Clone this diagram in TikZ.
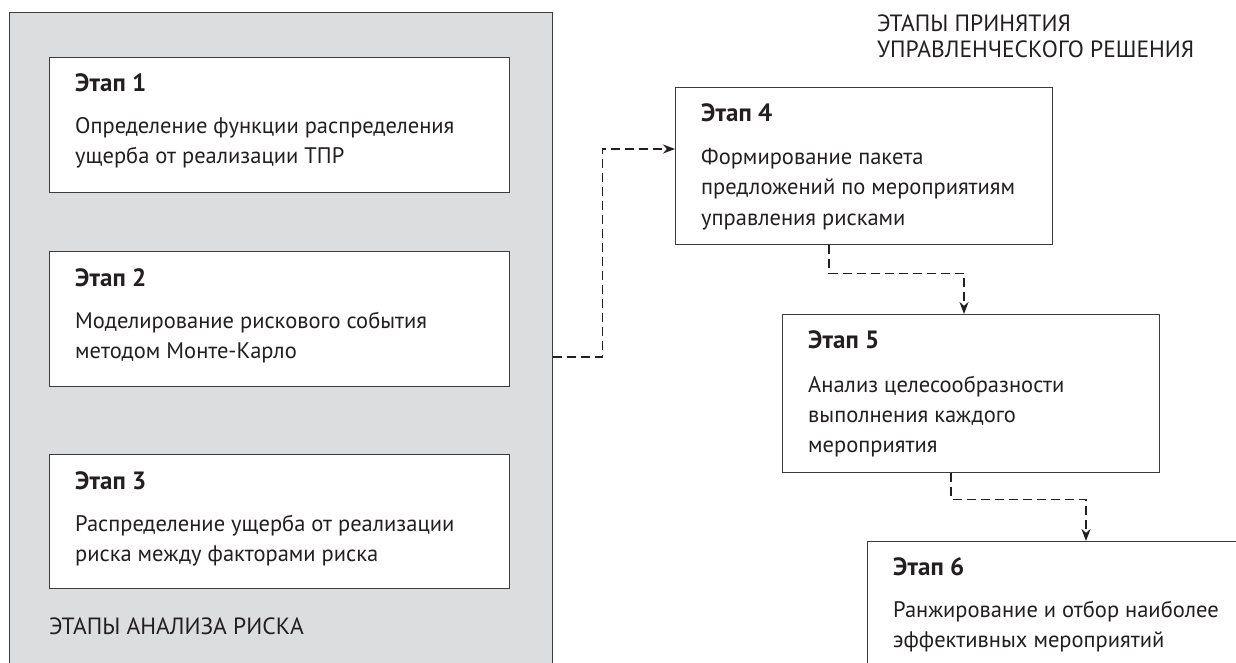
\documentclass[tikz,border=0pt]{standalone}
\usepackage{fontspec}
\setmainfont{PT Sans}
\usetikzlibrary{arrows.meta}
\definecolor{panelgray}{HTML}{DCDDDF}
\definecolor{edgegray}{HTML}{3C3C3C}
\definecolor{ink}{HTML}{231F20}
\tikzset{
  panelbox/.style={draw=edgegray, line width=1.4pt, fill=panelgray, rectangle,
    anchor=north west, inner sep=0pt},
  stagebox/.style={draw=edgegray, line width=1.4pt, fill=white, rectangle,
    anchor=north west, inner sep=0pt},
  stagetitle/.style={anchor=base west, inner sep=0pt, text=ink,
    font=\fontsize{25}{29}\selectfont\bfseries},
  stagetext/.style={anchor=base west, inner sep=0pt, text=ink},
  caption/.style={anchor=base west, inner sep=0pt, text=ink,
    font=\fontsize{23.5}{26}\selectfont},
  flow/.style={draw=ink, line width=1.7pt, dash pattern=on 9pt off 5pt,
    -{Stealth[length=12pt,width=9pt]}},
}
% body text of a stage: lines set 30pt apart, first baseline at the anchor
\newcommand\stagebody[1]{\parbox[t]{440pt}{\raggedright\fontsize{22.5}{30}\selectfont #1}}
\begin{document}
\begin{tikzpicture}[x=1pt,y=-1pt]
  \useasboundingbox (0,0) rectangle (1236,663);
  \clip (0,0) rectangle (1236,663);

  % left panel: risk analysis stages
  \node[panelbox, minimum width=543pt, minimum height=720pt] (panel) at (9,12) {};

  \node[stagebox, minimum width=460pt, minimum height=135pt] (s1) at (49,57) {};
  \node[stagetitle] (t1) at ([shift={(26,35)}]s1.north west) {Этап 1};
  \node[stagetext] (d1) at ([shift={(26,77)}]s1.north west)
    {\stagebody{Определение функции распределения\\ущерба от реализации ТПР}};

  \node[stagebox, minimum width=460pt, minimum height=135pt] (s2) at (49,251) {};
  \node[stagetitle] (t2) at ([shift={(26,35)}]s2.north west) {Этап 2};
  \node[stagetext] (d2) at ([shift={(26,77)}]s2.north west)
    {\stagebody{Моделирование рискового события\\методом Монте-Карло}};

  \node[stagebox, minimum width=460pt, minimum height=134pt] (s3) at (49,454) {};
  \node[stagetitle] (t3) at ([shift={(26,35)}]s3.north west) {Этап 3};
  \node[stagetext] (d3) at ([shift={(26,77)}]s3.north west)
    {\stagebody{Распределение ущерба от реализации\\риска между факторами риска}};

  \node[caption] (cap1) at (49,634) {ЭТАПЫ АНАЛИЗА РИСКА};

  % right side: management decision stages
  \node[caption] (cap2) at (877,32)
    {\parbox[t]{350pt}{\fontsize{23.5}{26}\selectfont ЭТАПЫ ПРИНЯТИЯ\\УПРАВЛЕНЧЕСКОГО РЕШЕНИЯ}};

  \node[stagebox, minimum width=377pt, minimum height=157pt] (s4) at (675,87) {};
  \node[stagetitle] (t4) at ([shift={(26,35)}]s4.north west) {Этап 4};
  \node[stagetext] (d4) at ([shift={(26,78)}]s4.north west)
    {\stagebody{Формирование пакета\\предложений по мероприятиям\\управления рисками}};

  \node[stagebox, minimum width=377pt, minimum height=158pt] (s5) at (782,314) {};
  \node[stagetitle] (t5) at ([shift={(26,34)}]s5.north west) {Этап 5};
  \node[stagetext] (d5) at ([shift={(26,78)}]s5.north west)
    {\stagebody{Анализ целесообразности\\выполнения каждого\\мероприятия}};

  \node[stagebox, minimum width=420pt, minimum height=160pt] (s6) at (867,541) {};
  \node[stagetitle] (t6) at ([shift={(26,34)}]s6.north west) {Этап 6};
  \node[stagetext] (d6) at ([shift={(26,76)}]s6.north west)
    {\stagebody{Ранжирование и отбор наиболее\\эффективных мероприятий}};

  % connectors
  \coordinate (out2) at (panel.east |- 0,357);
  \coordinate (in4) at (s4.west |- 0,149);
  \draw[flow] (out2) -- ++(49,0) |- (in4);
  \draw[flow] (s4.south -| 829,0) -- ++(0,28) -| (s5.north -| 964,0);
  \draw[flow] (s5.south -| 951,0) -- ++(0,26) -| (s6.north -| 1086,0);
\end{tikzpicture}
\end{document}
